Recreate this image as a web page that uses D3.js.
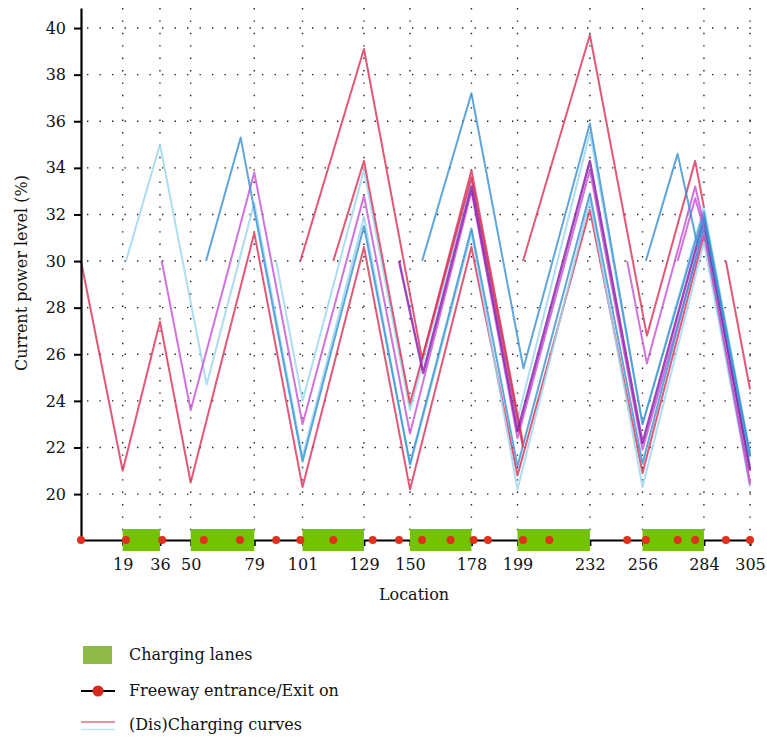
<!DOCTYPE html>
<html>
<head>
<meta charset="utf-8">
<script src="https://cdn.jsdelivr.net/npm/d3@7"></script>
<style>
  body { margin: 0; background: #fff; }
  text { font-family: "DejaVu Serif", serif; font-size: 16px; fill: #111; }
</style>
</head>
<body>
<div id="viz"></div>
<script>
// tick values
const yTicks = [20, 22, 24, 26, 28, 30, 32, 34, 36, 38, 40];
const xTicks = [19, 36, 50, 79, 101, 129, 150, 178, 199, 232, 256, 284, 305];

// charging lanes (start / end location)
const laneStarts = [19, 50, 101, 150, 199, 256];
const laneEnds = [36, 79, 129, 178, 232, 284];

// freeway entrances / exits
const rampLocs = [0, 20.5, 37, 56, 72.5, 89, 100, 115, 133, 145, 155.5, 168.5,
                  179, 185.5, 201.5, 213.5, 249, 257.5, 272, 280, 294, 305];

// (dis)charging curves: [location, power level %]
const curve1 = [[0, 30], [19, 21], [36, 27.4], [50, 20.5], [79, 31.2], [101, 20.3], [129, 30.6], [150, 20.2], [178, 30.6], [199, 20.8], [232, 32.2], [256, 20.9], [284, 31.1], [305, 20.5]];
const curve2 = [[20.5, 30], [36, 35], [57.3, 24.7], [79, 32.5], [101, 21.6], [129, 31.9], [150, 21.2], [178, 31.2], [199, 20.2], [232, 32.6], [256, 20.3], [284, 30.8], [305, 20.3]];
const curve3 = [[36.8, 30], [50, 23.6], [79, 33.8], [101, 23], [129, 32.8], [150, 22.6], [178, 33], [199, 22.4], [232, 33.9], [256, 21.9], [284, 31.3], [305, 20.4]];
const curve4 = [[57, 30], [72.8, 35.3], [79, 32.2], [101, 21.4], [129, 31.5], [150, 21.3], [178, 31.4], [199, 21.2], [232, 32.9], [256, 21.3], [284, 31.5], [305, 21.2]];
const curve5 = [[89, 30], [101, 24], [129, 33.9], [150, 23.6], [178, 33.5], [199, 23.2], [232, 35.5], [256, 23], [284, 32.3], [305, 21.8]];
const curve6 = [[100, 30], [129, 39.1], [155.5, 25.8], [178, 33.9], [201.5, 22.2]];
const curve7 = [[115, 30], [129, 34.3], [150, 23.9], [178, 33.6], [201.5, 22]];
const curve8 = [[145, 30], [156, 25.2], [178, 33.2], [199, 22.7], [232, 34.3], [256, 22.2], [284, 31.8], [305, 21]];
const curve9 = [[155.5, 30], [178, 37.2], [201.7, 25.4], [232, 35.9], [256, 23], [284, 32.1], [305, 21.7]];
const curve10 = [[201.5, 30], [232, 39.7], [258, 26.8], [280, 34.3], [284, 32.3]];
const curve11 = [[249, 30], [258, 25.6], [280, 33.2], [284, 31.6]];
const curve12 = [[272, 30], [280, 32.7], [284, 31.4]];
const curve13 = [[257.5, 30], [272, 34.6], [281, 30.7], [284, 31.9], [305, 21.6]];
const curve14 = [[294, 30], [305, 24.5]];

const curves = [curve1, curve2, curve3, curve4, curve5, curve6, curve7,
                curve8, curve9, curve10, curve11, curve12, curve13, curve14];

const red = "#dc3358", lightBlue = "#9ad6f0", medBlue = "#3a93d3",
      magenta = "#c654d6", purple = "#8a1cac";
const curveColors = [red, lightBlue, magenta, medBlue, lightBlue, red, red,
                     purple, medBlue, red, magenta, magenta, medBlue, red];

const svg = d3.select("#viz")
  .append("svg")
  .attr("width", 767)
  .attr("height", 739);

const x = d3.scaleLinear().domain([0, 305]).range([81, 750]);
const y = d3.scaleLinear().domain([18.03, 40.86]).range([540, 8]);

// dotted grid
svg.append("g")
  .selectAll("line")
  .data(yTicks)
  .join("line")
  .attr("x1", x(0) + 6).attr("x2", x(305) + 3)
  .attr("y1", d => y(d)).attr("y2", d => y(d))
  .attr("stroke", "#222").attr("stroke-width", 1.4)
  .attr("stroke-dasharray", "1.4,11.1");

svg.append("g")
  .selectAll("line")
  .data(xTicks)
  .join("line")
  .attr("x1", d => x(d)).attr("x2", d => x(d))
  .attr("y1", y(40.86)).attr("y2", y(18.03))
  .attr("stroke", "#222").attr("stroke-width", 1.4)
  .attr("stroke-dasharray", "1.4,11");

// curves
const line = d3.line().x(d => x(d[0])).y(d => y(d[1]));
svg.append("g")
  .selectAll("path")
  .data(curves)
  .join("path")
  .attr("d", line)
  .attr("fill", "none")
  .attr("stroke", (d, i) => curveColors[i])
  .attr("stroke-width", (d, i) => curveColors[i] === purple ? 2.4 : 2)
  .attr("stroke-opacity", 0.82)
  .attr("stroke-linejoin", "round");

// axes
const yAxis = svg.append("g")
  .attr("transform", `translate(${x(0)},0)`)
  .call(d3.axisLeft(y).tickValues(yTicks).tickSizeInner(7).tickSizeOuter(0).tickPadding(8));

const xAxis = svg.append("g")
  .attr("transform", `translate(0,${y(18.03)})`)
  .call(d3.axisBottom(x).tickValues(xTicks).tickSizeInner(6).tickSizeOuter(0).tickPadding(13));

[yAxis, xAxis].forEach(g => {
  g.select(".domain").attr("stroke", "#000").attr("stroke-width", 2.2);
  g.selectAll(".tick line").attr("stroke", "#000").attr("stroke-width", 2);
  g.selectAll(".tick text")
    .attr("fill", "#111")
    .style("font-family", "'DejaVu Serif', serif")
    .style("font-size", "16px");
});

// charging lanes
svg.append("g")
  .selectAll("rect")
  .data(laneStarts)
  .join("rect")
  .attr("x", d => x(d))
  .attr("width", (d, i) => x(laneEnds[i]) - x(d))
  .attr("y", y(18.03) - 11)
  .attr("height", 22)
  .attr("fill", "#74c300");

// ramps
svg.append("g")
  .selectAll("circle")
  .data(rampLocs)
  .join("circle")
  .attr("cx", d => x(d))
  .attr("cy", y(18.03))
  .attr("r", 4)
  .attr("fill", "#e0301e");

// axis titles
svg.append("text")
  .attr("transform", "translate(27,273) rotate(-90)")
  .attr("text-anchor", "middle")
  .text("Current power level (%)");

svg.append("text")
  .attr("x", 414)
  .attr("y", 600)
  .attr("text-anchor", "middle")
  .text("Location");

// legend
const legend = svg.append("g");
legend.append("rect")
  .attr("x", 83).attr("y", 646).attr("width", 29).attr("height", 18)
  .attr("fill", "#8fba48");
legend.append("text").attr("x", 129).attr("y", 660).text("Charging lanes");

legend.append("line")
  .attr("x1", 81).attr("x2", 115).attr("y1", 691).attr("y2", 691)
  .attr("stroke", "#000").attr("stroke-width", 2);
legend.append("circle")
  .attr("cx", 98).attr("cy", 691).attr("r", 5.5)
  .attr("fill", "#d8281e");
legend.append("text").attr("x", 129).attr("y", 696).text("Freeway entrance/Exit on");

legend.append("line")
  .attr("x1", 81).attr("x2", 115).attr("y1", 722).attr("y2", 722)
  .attr("stroke", "#d9707f").attr("stroke-width", 1.6);
legend.append("line")
  .attr("x1", 81).attr("x2", 115).attr("y1", 729.5).attr("y2", 729.5)
  .attr("stroke", "#bfe6f5").attr("stroke-width", 1.6);
legend.append("text").attr("x", 129).attr("y", 730).text("(Dis)Charging curves");
</script>
</body>
</html>
